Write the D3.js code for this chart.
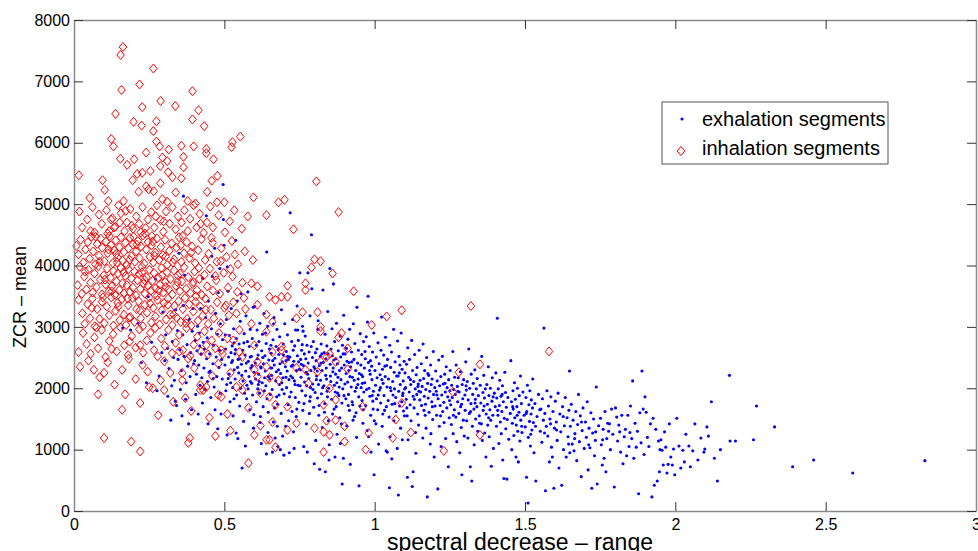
<!DOCTYPE html>
<html><head><meta charset="utf-8">
<script src="https://cdn.jsdelivr.net/npm/d3@7"></script>
<style>body{margin:0;background:#fff}svg{display:block}text{font-family:"Liberation Sans",Arial,sans-serif}</style>
</head><body><svg id="chart" width="978" height="551"></svg>
<script>
const xTicks=[0,0.5,1,1.5,2,2.5,3];
const yTicks=[0,1000,2000,3000,4000,5000,6000,7000,8000];
const xLabel="spectral decrease – range";
const yLabel="ZCR – mean";
const seriesNames=["exhalation segments","inhalation segments"];

// exhalation segments: [spectral decrease range, ZCR mean]
const exhalation=[
[0.162,2980],[0.188,2950],[0.213,3060],[0.247,3490],[0.271,3780],[0.224,2420],[0.258,2750],[0.283,2200],[0.241,2090],[0.292,2580],[0.276,1960],[0.296,3240],[0.364,5130],
[0.305,2870],[0.311,2650],[0.316,2320],[0.322,1480],[0.327,2760],[0.331,2500],[0.334,2130],[0.338,3280],[0.341,1720],[0.344,2940],[0.346,2470],[0.349,4200],[0.312,1870],[0.325,2040],[0.337,1790],[0.302,2450],
[0.352,2630],[0.354,1980],[0.357,2290],[0.359,1550],[0.362,2870],[0.364,3350],[0.366,2520],[0.368,3840],[0.371,1820],[0.373,2090],[0.376,2710],[0.378,2360],[0.381,1420],[0.383,3120],[0.386,2190],[0.388,2580],[0.391,1650],[0.393,2930],[0.396,3300],[0.398,2400],
[0.401,2450],[0.403,2780],[0.405,1900],[0.407,2230],[0.409,2610],[0.411,3010],[0.413,1580],[0.415,2380],[0.417,2900],[0.419,2050],[0.421,3300],[0.423,2560],[0.425,2170],[0.427,1760],[0.428,3790],[0.430,2750],[0.432,2330],[0.434,2640],[0.436,1980],[0.438,3150],[0.440,4810],[0.441,2480],[0.443,2820],[0.444,2110],[0.446,1420],[0.447,3420],[0.449,2260],[0.418,2690],
[0.451,2560],[0.453,2280],[0.455,1850],[0.457,2970],[0.458,4150],[0.460,3820],[0.462,2400],[0.464,2700],[0.466,2020],[0.468,4280],[0.469,1650],[0.471,3220],[0.473,2510],[0.475,2190],[0.477,2880],[0.478,1340],[0.480,3560],[0.482,2340],[0.484,2620],[0.486,1920],[0.487,3050],[0.489,1580],[0.491,2470],[0.493,2150],[0.494,2790],[0.496,5320],[0.497,4750],[0.499,4330],[0.485,3950],[0.463,2160],
[0.502,2380],[0.504,2640],[0.505,1960],[0.507,3120],[0.509,1240],[0.510,3980],[0.512,3580],[0.514,2510],[0.516,2230],[0.517,2860],[0.519,1780],[0.521,2090],[0.523,3300],[0.524,2420],[0.526,2690],[0.528,2010],[0.529,1550],[0.531,2970],[0.533,2300],[0.535,2560],[0.536,2150],[0.538,4410],[0.540,2810],[0.541,1890],[0.543,3420],[0.545,1180],[0.546,2470],[0.548,2250],[0.549,2720],[0.503,2870],[0.513,2160],[0.522,2580],[0.532,1830],[0.539,1270],[0.544,2340],[0.527,2450],[0.508,2060],[0.537,2630],
[0.551,1710],[0.553,3090],[0.554,2000],[0.556,3540],[0.557,2390],[0.559,700],[0.561,2620],[0.562,2120],[0.564,1460],[0.566,2890],[0.567,1920],[0.569,2540],[0.571,2280],[0.572,3180],[0.574,1830],[0.575,2050],[0.577,2760],[0.578,3570],[0.580,2440],[0.582,2190],[0.583,2680],[0.585,1650],[0.586,2960],[0.588,2330],[0.590,2520],[0.591,2080],[0.593,2810],[0.594,1890],[0.596,3320],[0.597,1350],[0.599,2260],[0.552,2480],[0.558,2210],[0.565,2740],[0.573,2410],[0.579,1990],[0.587,2110],[0.592,2370],[0.598,1570],[0.570,1060],
[0.601,3330],[0.603,2410],[0.604,2150],[0.606,2700],[0.607,1780],[0.609,2950],[0.611,1990],[0.612,2540],[0.614,2230],[0.615,2760],[0.617,1920],[0.618,3060],[0.620,1540],[0.621,2350],[0.623,1100],[0.624,2610],[0.626,2090],[0.627,2880],[0.629,1700],[0.630,2400],[0.632,3220],[0.633,1960],[0.635,2530],[0.636,2280],[0.638,2040],[0.639,2730],[0.641,4220],[0.642,1830],[0.644,3010],[0.645,1280],[0.647,2190],[0.648,2460],[0.650,2640],[0.610,2480],[0.616,2110],[0.622,2330],[0.628,2500],[0.634,2170],[0.640,930],[0.646,1610],[0.619,1440],[0.637,2900],
[0.651,2150],[0.653,1900],[0.654,2330],[0.656,2570],[0.657,2210],[0.659,1980],[0.660,960],[0.662,2790],[0.663,1450],[0.665,3150],[0.666,2380],[0.668,2490],[0.669,1190],[0.671,2120],[0.672,2680],[0.674,1860],[0.675,2960],[0.677,1740],[0.678,1050],[0.680,2300],[0.681,2550],[0.683,2060],[0.684,2840],[0.686,1000],[0.687,2240],[0.689,1590],[0.690,3280],[0.692,1980],[0.693,2430],[0.695,2170],[0.696,2720],[0.698,910],[0.699,1910],[0.655,2700],[0.661,2450],[0.667,1680],[0.673,2270],[0.679,2630],[0.685,2400],[0.691,2090],[0.697,2540],[0.664,3050],[0.676,1380],[0.694,1220],
[0.701,3050],[0.703,2350],[0.704,1380],[0.706,2600],[0.707,2010],[0.709,2280],[0.710,2870],[0.712,1730],[0.713,2470],[0.715,2140],[0.716,950],[0.718,2510],[0.719,4860],[0.721,2200],[0.722,1940],[0.724,2760],[0.725,1620],[0.727,3120],[0.728,2380],[0.730,1290],[0.731,2440],[0.733,2120],[0.734,2690],[0.736,1850],[0.737,2950],[0.739,1540],[0.740,2290],[0.742,3340],[0.743,2530],[0.745,2050],[0.746,2780],[0.748,1770],[0.749,2310],[0.705,2180],[0.711,2520],[0.717,1860],[0.723,2360],[0.729,2620],[0.735,2060],[0.741,1660],[0.747,2430],[0.714,1470],[0.732,1020],[0.744,2950],
[0.751,3880],[0.752,2040],[0.754,2470],[0.755,2180],[0.757,2620],[0.758,1960],[0.760,3010],[0.761,1640],[0.763,2370],[0.764,1050],[0.766,2560],[0.767,2100],[0.769,2850],[0.770,1880],[0.772,2260],[0.773,1420],[0.775,2700],[0.776,960],[0.778,3880],[0.779,2410],[0.781,2160],[0.782,2590],[0.784,1790],[0.785,3180],[0.787,2010],[0.788,2290],[0.790,4500],[0.791,3620],[0.793,2500],[0.794,2070],[0.796,2760],[0.797,1690],[0.799,770],[0.753,2300],[0.759,2710],[0.765,1750],[0.771,2480],[0.777,2230],[0.783,1590],[0.789,2680],[0.795,1980],[0.762,2930],[0.774,2040],[0.798,2350],
[0.801,2320],[0.802,1930],[0.804,1150],[0.805,2450],[0.807,2200],[0.808,2640],[0.810,1840],[0.811,2960],[0.813,2060],[0.814,1560],[0.816,2370],[0.817,680],[0.819,2520],[0.820,2130],[0.822,2720],[0.823,1910],[0.825,2290],[0.826,1360],[0.828,3600],[0.829,2420],[0.831,2040],[0.832,2580],[0.834,1750],[0.835,2880],[0.837,2210],[0.838,2480],[0.840,2150],[0.841,2690],[0.843,1860],[0.844,3250],[0.846,1470],[0.847,2000],[0.849,1080],[0.803,2580],[0.809,2280],[0.815,1720],[0.821,2410],[0.827,2010],[0.833,1610],[0.839,2330],[0.845,2560],[0.812,3100],[0.836,640],[0.848,830],
[0.851,3950],[0.852,2390],[0.854,2110],[0.855,2640],[0.857,1820],[0.858,2970],[0.860,1580],[0.861,2270],[0.863,3700],[0.864,2460],[0.866,2050],[0.867,2760],[0.869,1940],[0.870,2230],[0.872,1700],[0.873,3060],[0.875,1250],[0.876,2400],[0.878,2180],[0.879,2610],[0.881,1880],[0.882,2020],[0.884,1520],[0.885,2850],[0.887,2510],[0.888,2140],[0.890,2330],[0.891,1760],[0.893,2700],[0.894,1990],[0.896,860],[0.897,3190],[0.899,2380],[0.853,2200],[0.859,2530],[0.865,1660],[0.871,2480],[0.877,1920],[0.883,2290],[0.889,1420],[0.895,2560],[0.868,880],[0.886,1100],[0.892,440],
[0.901,2070],[0.902,2560],[0.904,1830],[0.905,2240],[0.907,1390],[0.908,2440],[0.910,2100],[0.911,2800],[0.913,1900],[0.914,2290],[0.916,1640],[0.917,2960],[0.919,760],[0.920,2350],[0.922,2020],[0.923,2590],[0.925,1780],[0.926,2180],[0.928,1480],[0.929,3050],[0.931,2470],[0.932,2130],[0.934,2730],[0.935,1950],[0.937,2290],[0.938,1600],[0.940,1200],[0.941,3320],[0.943,2410],[0.944,2060],[0.946,2620],[0.947,1860],[0.949,2240],[0.906,2650],[0.912,1720],[0.918,2190],[0.924,2430],[0.933,1540],[0.939,2010],[0.948,410],
[0.951,1710],[0.952,2890],[0.954,2380],[0.955,2010],[0.957,2550],[0.958,1800],[0.960,2190],[0.961,1430],[0.963,2760],[0.964,1940],[0.966,2330],[0.967,2090],[0.969,2480],[0.970,1720],[0.972,2840],[0.973,1980],[0.975,1310],[0.976,3080],[0.978,3500],[0.979,2420],[0.981,2000],[0.982,2680],[0.984,1870],[0.985,2230],[0.987,1560],[0.988,960],[0.990,2360],[0.991,2140],[0.993,2590],[0.994,1790],[0.996,1950],[0.997,2900],[0.999,1470],[0.956,2220],[0.962,1650],[0.968,2600],[0.980,1210],[0.986,2450],[0.992,1880],[0.998,590],
[1.001,2290],[1.003,2050],[1.005,2510],[1.006,1830],[1.008,2170],[1.010,1650],[1.011,2740],[1.013,1090],[1.015,2400],[1.016,1970],[1.018,2220],[1.020,1760],[1.021,2620],[1.023,3160],[1.025,1380],[1.026,2310],[1.028,2080],[1.030,2540],[1.031,1880],[1.033,1640],[1.035,2190],[1.036,2830],[1.038,980],[1.040,2370],[1.041,2020],[1.043,2470],[1.045,1800],[1.046,2150],[1.048,1530],[1.050,2700],[1.004,1420],[1.019,2010],[1.027,1580],[1.034,2360],[1.042,960],[1.049,380],
[1.051,1210],[1.053,2340],[1.054,1960],[1.056,2590],[1.058,1740],[1.060,2110],[1.061,1890],[1.063,2960],[1.065,2260],[1.066,1990],[1.068,2430],[1.070,1850],[1.071,1620],[1.073,2200],[1.075,1020],[1.076,2770],[1.078,2200],[1.080,1950],[1.081,2520],[1.083,1710],[1.085,2060],[1.086,1350],[1.088,2900],[1.090,1780],[1.091,2310],[1.093,1880],[1.095,2120],[1.096,1630],[1.098,2440],[1.100,1990],[1.057,850],[1.064,1470],[1.079,260],[1.084,2380],[1.092,1160],[1.099,1550],
[1.101,2250],[1.103,2010],[1.105,1820],[1.106,2390],[1.108,1550],[1.110,2660],[1.111,1160],[1.113,2180],[1.115,1940],[1.116,2470],[1.118,1730],[1.120,2060],[1.121,1470],[1.123,2780],[1.125,400],[1.126,2290],[1.128,1870],[1.130,2110],[1.131,1680],[1.133,2550],[1.135,1990],[1.136,1280],[1.138,2220],[1.140,1900],[1.141,2340],[1.143,1580],[1.145,2070],[1.146,1400],[1.148,2620],[1.150,1810],[1.109,550],[1.128,640],[1.137,940],[1.144,2030],
[1.151,2130],[1.153,1940],[1.155,2400],[1.156,1720],[1.158,2030],[1.160,1190],[1.161,2720],[1.163,2160],[1.165,1870],[1.166,2290],[1.168,1560],[1.170,1980],[1.171,1350],[1.173,2500],[1.175,230],[1.176,2080],[1.178,1840],[1.180,2210],[1.181,1610],[1.183,1950],[1.185,1090],[1.186,2380],[1.188,2060],[1.190,1780],[1.191,2150],[1.193,1490],[1.195,2600],[1.196,1900],[1.198,880],[1.200,2010],[1.169,1740],[1.187,1260],
[1.201,1710],[1.203,2280],[1.205,1950],[1.206,1560],[1.208,2120],[1.210,360],[1.211,1830],[1.213,2460],[1.215,1380],[1.216,2040],[1.218,1720],[1.220,2190],[1.221,1050],[1.223,1890],[1.225,2520],[1.226,1620],[1.228,2070],[1.230,1770],[1.231,1440],[1.233,2230],[1.235,1940],[1.236,1180],[1.238,2350],[1.240,1680],[1.241,2010],[1.243,1860],[1.245,720],[1.246,2140],[1.248,1520],[1.250,1960],
[1.251,2290],[1.253,1730],[1.255,1410],[1.256,2050],[1.258,1850],[1.260,2600],[1.261,1260],[1.263,1980],[1.265,1650],[1.266,2180],[1.268,1900],[1.270,1530],[1.271,2380],[1.273,1130],[1.275,2030],[1.276,1780],[1.278,2170],[1.280,1590],[1.281,1940],[1.283,950],[1.285,2270],[1.286,1700],[1.288,1360],[1.290,590],[1.291,2060],[1.293,1830],[1.295,1480],[1.296,2140],[1.298,1220],[1.300,1890],
[1.301,1640],[1.303,2430],[1.305,1970],[1.306,1470],[1.308,2110],[1.310,1190],[1.311,1810],[1.313,2640],[1.315,1590],[1.316,2000],[1.318,720],[1.320,1750],[1.321,2230],[1.323,490],[1.325,1380],[1.326,1900],[1.328,2080],[1.330,1660],[1.331,1080],[1.333,2300],[1.335,1820],[1.336,1500],[1.338,1990],[1.340,1700],[1.341,2160],[1.343,1300],[1.345,1880],[1.348,1550],
[1.351,2050],[1.353,1760],[1.355,1420],[1.356,2520],[1.358,1150],[1.360,1930],[1.361,1640],[1.363,2210],[1.365,1840],[1.366,1270],[1.368,1990],[1.370,880],[1.371,1580],[1.373,2060],[1.375,1740],[1.376,1400],[1.378,2350],[1.380,1880],[1.381,1210],[1.383,1650],[1.385,2000],[1.386,1480],[1.388,730],[1.390,1790],[1.391,2170],[1.393,1560],[1.395,1020],[1.398,1920],
[1.401,1700],[1.403,2250],[1.405,1380],[1.406,1840],[1.408,3140],[1.410,1560],[1.411,1990],[1.413,1100],[1.415,1720],[1.416,2130],[1.418,1450],[1.420,1870],[1.421,1260],[1.423,1620],[1.425,2040],[1.426,830],[1.428,1780],[1.430,530],[1.431,1510],[1.433,2260],[1.435,1930],[1.436,1340],[1.438,1690],[1.440,520],[1.443,1850],[1.446,1170],
[1.451,1590],[1.453,2450],[1.455,1780],[1.456,1000],[1.458,1430],[1.460,1960],[1.461,1660],[1.463,1230],[1.465,2090],[1.466,1520],[1.468,1820],[1.470,880],[1.471,1400],[1.473,1700],[1.475,2000],[1.476,1300],[1.478,800],[1.480,1610],[1.481,1880],[1.483,1140],[1.485,2200],[1.486,1480],[1.488,1750],[1.490,1280],[1.493,1940],[1.497,1560],
[1.501,1370],[1.503,1850],[1.505,550],[1.506,1620],[1.508,2050],[1.510,130],[1.511,1200],[1.513,1730],[1.515,1460],[1.516,1960],[1.518,1060],[1.520,1580],[1.521,1810],[1.523,1320],[1.525,1680],[1.526,2150],[1.528,1440],[1.530,950],[1.533,1750],[1.536,490],[1.540,1540],[1.545,1900],
[1.551,1300],[1.553,1660],[1.556,1120],[1.558,1830],[1.561,1480],[1.563,2980],[1.566,1590],[1.568,330],[1.571,1380],[1.573,1960],[1.576,1220],[1.578,1710],[1.581,800],[1.583,1500],[1.586,1860],[1.588,1040],[1.591,880],[1.593,1620],[1.596,370],[1.598,1350],
[1.601,1790],[1.604,1450],[1.607,1150],[1.610,1920],[1.613,700],[1.616,1580],[1.619,1290],[1.622,420],[1.625,1700],[1.628,1000],[1.631,1390],[1.634,1850],[1.637,880],[1.640,1520],[1.643,1210],[1.646,1640],[1.648,2280],[1.649,950],
[1.651,1380],[1.654,1740],[1.657,1090],[1.660,1480],[1.663,980],[1.666,1260],[1.669,1620],[1.672,820],[1.675,1410],[1.678,1900],[1.681,1130],[1.684,1550],[1.687,560],[1.690,1310],[1.693,1680],[1.697,1020],
[1.701,1450],[1.704,1200],[1.707,1780],[1.710,670],[1.713,1350],[1.716,1030],[1.719,1600],[1.722,370],[1.725,1270],[1.728,1500],[1.731,900],[1.734,1150],[1.737,2020],[1.740,440],[1.745,1390],
[1.751,1510],[1.754,1080],[1.757,750],[1.760,1330],[1.763,860],[1.766,1620],[1.769,640],[1.772,1180],[1.775,1430],[1.778,1300],[1.784,1000],[1.788,1660],[1.792,1250],[1.797,390],
[1.801,1680],[1.805,1530],[1.808,1140],[1.812,1400],[1.815,1290],[1.818,960],[1.822,1560],[1.826,770],[1.830,1210],[1.834,1330],[1.838,900],[1.842,1560],[1.846,1050],[1.849,1280],
[1.851,1710],[1.855,1180],[1.858,2120],[1.862,860],[1.866,1430],[1.870,1040],[1.874,1300],[1.878,280],[1.882,1600],[1.886,1110],[1.889,2280],[1.893,1660],[1.896,920],[1.899,1860],
[1.903,1610],[1.907,1200],[1.912,1050],[1.917,1420],[1.922,230],[1.926,1510],[1.930,420],[1.935,1330],[1.940,490],[1.944,1140],[1.947,640],[1.949,1000],
[1.952,1160],[1.956,990],[1.960,750],[1.964,1290],[1.968,1040],[1.972,620],[1.976,760],[1.980,1420],[1.985,880],[1.990,750],[1.994,1010],[1.998,590],
[2.005,1510],[2.012,1060],[2.018,700],[2.025,990],[2.030,800],[2.035,1250],[2.045,1060],[2.050,720],[2.058,980],[2.065,1420],[2.075,830],[2.085,1190],[2.095,960],[2.098,1010],
[2.105,1370],[2.110,1220],[2.120,1780],[2.130,860],[2.140,490],[2.150,1000],[2.180,2210],[2.182,1140],[2.200,1140],[2.260,1160],[2.270,1710],[2.330,1370],[2.390,720],[2.460,830],[2.590,620],[2.830,820],
[0.532,2740],[0.586,2510],[0.613,2060],[0.658,2330],[0.682,1890],[0.705,2450],[0.727,2170],[0.756,2390],[0.786,1860],[0.806,2140],[0.824,2560],[0.842,1950],[0.862,2330],[0.874,2090],[0.898,1880],[0.915,2420],[0.927,1730],[0.945,2150],[0.959,2080],[0.983,2290],[0.995,1660],[1.012,1890],[1.024,2140],[1.039,1700],[1.052,2010],[1.067,1750],[1.082,2250],[1.094,1920],[1.107,1680],[1.119,2140],[1.132,1820],[1.147,1950],[1.164,1640],[1.177,2240],[1.192,1700],[1.207,1890],[1.219,1550],[1.234,2080],[1.249,1800],[1.262,1560],[1.277,1950],[1.289,1740],[1.304,2040],[1.319,1620],[1.334,1760],[1.349,1430],[1.364,1710],[1.379,1520],[1.394,1860],[1.409,1640],[1.424,1900],[1.441,1490],[1.459,1700],[1.474,1560],[1.489,1380],[1.504,1590],[1.519,1250],[1.535,1380],[1.549,1650],[1.565,1270],[1.585,1420],[1.605,1320],[1.627,1540],[1.645,1090],[1.665,1180],[1.688,1450],[1.712,1080],[1.735,1290],[1.758,1160],[1.781,1420]
];

// inhalation segments: [spectral decrease range, ZCR mean]
const inhalation=[
[0.163,7560],[0.155,7430],[0.264,7210],[0.218,6950],[0.158,6860],[0.394,6840],[0.288,6680],[0.337,6600],[0.227,6580],[0.414,6530],[0.138,6470],[0.198,6340],[0.274,6350],[0.394,6380],[0.225,6280],[0.433,6270],[0.264,6190],[0.124,6060],[0.274,6020],[0.131,5940],[0.285,5940],[0.357,5950],[0.398,5940],[0.315,5890],[0.240,5840],[0.440,5900],[0.440,5830],[0.527,6010],[0.553,6100],[0.524,5930],[0.154,5740],[0.200,5730],[0.177,5640],[0.464,5730],[0.294,5760],[0.310,5700],[0.364,5770],[0.364,5600],[0.016,5470],
[0.095,5390],[0.102,5230],[0.195,5390],[0.210,5490],[0.227,5510],[0.254,5540],[0.287,5620],[0.287,5340],[0.313,5520],[0.327,5440],[0.357,5420],[0.477,5460],[0.458,5380],[0.443,5200],[0.240,5290],[0.215,5200],[0.265,5210],[0.806,5370],[0.338,5190],[0.052,5100],[0.114,5050],[0.165,5050],[0.248,5240],[0.294,5080],[0.310,5040],[0.378,5050],[0.404,5010],[0.476,5030],[0.500,5030],[0.597,5110],[0.680,5030],[0.700,5070],
[0.018,4880],[0.027,4620],[0.044,4750],[0.061,4950],[0.068,4540],[0.083,4830],[0.092,4680],[0.108,4900],[0.117,4560],[0.128,4770],[0.137,4630],[0.148,4980],[0.156,4850],[0.168,4560],[0.176,4700],[0.187,4920],[0.196,4600],[0.207,4800],[0.217,4680],[0.228,4950],[0.236,4520],[0.246,4750],[0.257,4870],[0.267,4620],[0.276,4980],[0.288,4740],[0.297,4550],[0.306,4880],[0.318,4680],[0.327,4950],[0.338,4590],[0.346,4800],[0.358,4700],[0.367,4900],[0.378,4560],[0.386,4760],[0.398,4980],[0.408,4620],[0.418,4840],[0.431,4530],[0.442,4700],[0.453,4960],[0.462,4620],[0.481,4820],[0.502,4540],[0.518,4720],[0.533,4900],[0.558,4600],[0.578,4800],[0.640,4820],[0.730,4590],[0.880,4870],[0.112,4520],[0.152,4700],[0.222,4540],[0.272,4800],[0.192,4650],[0.123,4750],[0.055,4560],
[0.008,4320],[0.015,4180],[0.022,4420],[0.031,4050],[0.038,4260],[0.046,4380],[0.052,4110],[0.058,4470],[0.064,4230],[0.071,4020],[0.077,4350],[0.083,4160],[0.089,4440],[0.094,4290],[0.101,4070],[0.106,4390],[0.112,4200],[0.118,4480],[0.123,4330],[0.129,4040],[0.134,4250],[0.139,4410],[0.145,4130],[0.151,4300],[0.156,4460],[0.161,4080],[0.166,4220],[0.171,4370],[0.176,4010],[0.181,4280],[0.186,4450],[0.191,4150],[0.196,4340],[0.202,4060],[0.207,4230],[0.212,4400],[0.218,4120],[0.223,4310],[0.229,4490],[0.234,4030],[0.240,4260],[0.246,4380],[0.252,4140],[0.258,4330],[0.264,4050],[0.270,4210],[0.276,4440],[0.283,4090],[0.289,4300],[0.296,4170],[0.303,4420],[0.310,4010],[0.317,4240],[0.325,4360],[0.333,4100],[0.341,4290],[0.349,4460],[0.357,4060],[0.366,4200],[0.375,4380],[0.384,4120],[0.393,4310],[0.403,4040],[0.413,4250],[0.424,4430],[0.436,4090],[0.448,4190],[0.461,4370],[0.475,4060],[0.490,4280],[0.507,4140],[0.525,4400],[0.545,4020],[0.568,4230],[0.595,4090],[0.800,4100],[0.820,4070],[0.140,4190],[0.198,4470],[0.262,4390],[0.115,4260],[0.185,4090],[0.305,4150],[0.355,4330],[0.085,4060],
[0.012,3680],[0.019,3980],[0.026,3540],[0.034,3820],[0.041,3610],[0.048,3930],[0.055,3720],[0.062,3560],[0.068,3870],[0.075,3650],[0.081,3990],[0.087,3770],[0.093,3530],[0.099,3840],[0.105,3690],[0.110,3950],[0.116,3580],[0.121,3800],[0.126,3660],[0.131,3910],[0.136,3520],[0.141,3740],[0.146,3870],[0.151,3600],[0.156,3960],[0.161,3710],[0.166,3550],[0.171,3830],[0.176,3680],[0.181,3940],[0.186,3570],[0.191,3790],[0.196,3640],[0.201,3900],[0.206,3510],[0.211,3760],[0.216,3860],[0.221,3620],[0.226,3980],[0.231,3700],[0.236,3540],[0.241,3810],[0.246,3670],[0.251,3930],[0.256,3590],[0.261,3750],[0.266,3880],[0.271,3630],[0.276,3510],[0.281,3800],[0.286,3690],[0.291,3960],[0.297,3560],[0.303,3730],[0.309,3890],[0.315,3610],[0.321,3780],[0.327,3530],[0.333,3920],[0.339,3670],[0.345,3840],[0.352,3580],[0.359,3740],[0.366,3970],[0.373,3620],[0.380,3810],[0.387,3550],[0.394,3700],[0.401,3900],[0.409,3600],[0.417,3780],[0.425,3520],[0.434,3850],[0.443,3660],[0.452,3950],[0.462,3590],[0.473,3760],[0.485,3540],[0.498,3880],[0.512,3640],[0.527,3820],[0.543,3570],[0.560,3720],[0.590,3710],[0.610,3660],[0.710,3670],[0.770,3710],[0.770,3600],[0.860,3870],[0.930,3580],[0.790,3970],[0.165,3890],[0.235,3760],[0.305,3650],[0.125,3580],
[0.015,3440],[0.028,3220],[0.036,3050],[0.045,3370],[0.053,3140],[0.061,3460],[0.069,3010],[0.077,3290],[0.085,3130],[0.093,3410],[0.101,3060],[0.109,3330],[0.117,3190],[0.124,3480],[0.131,3020],[0.138,3260],[0.145,3390],[0.152,3110],[0.159,3450],[0.166,3200],[0.173,3030],[0.180,3350],[0.187,3160],[0.194,3470],[0.201,3080],[0.208,3290],[0.215,3420],[0.222,3140],[0.229,3010],[0.236,3360],[0.243,3230],[0.250,3480],[0.257,3070],[0.264,3310],[0.271,3170],[0.278,3440],[0.285,3040],[0.292,3270],[0.299,3390],[0.306,3120],[0.313,3460],[0.320,3200],[0.327,3030],[0.334,3340],[0.341,3150],[0.348,3420],[0.355,3080],[0.362,3290],[0.369,3470],[0.376,3130],[0.383,3370],[0.390,3020],[0.397,3250],[0.404,3410],[0.412,3100],[0.420,3330],[0.428,3180],[0.437,3460],[0.446,3050],[0.455,3280],[0.465,3140],[0.476,3400],[0.488,3060],[0.500,3310],[0.515,3190],[0.540,3220],[0.570,3290],[0.610,3360],[0.650,3490],[0.670,3440],[0.690,3490],[0.710,3490],[0.660,3080],[0.760,3240],[0.740,3140],[0.810,3240],[0.820,3000],[0.990,3030],[1.040,3170],[1.090,3270],[1.320,3340],[0.565,3470],[0.530,3400],[0.590,3050],[0.640,3200],
[0.015,2590],[0.030,2900],[0.042,2720],[0.055,2560],[0.068,2830],[0.080,2650],[0.092,2950],[0.105,2510],[0.117,2770],[0.130,2880],[0.142,2600],[0.155,2990],[0.167,2700],[0.180,2540],[0.192,2850],[0.205,2660],[0.217,2960],[0.230,2580],[0.242,2780],[0.254,2900],[0.266,2620],[0.278,2520],[0.290,2810],[0.302,2690],[0.314,2950],[0.326,2570],[0.338,2740],[0.350,2870],[0.362,2620],[0.374,2980],[0.386,2530],[0.398,2710],[0.410,2840],[0.422,2600],[0.434,2930],[0.446,2550],[0.458,2780],[0.470,2650],[0.482,2900],[0.494,2560],[0.490,2620],[0.510,2810],[0.530,2780],[0.550,2950],[0.550,2590],[0.560,2510],[0.640,2920],[0.660,2590],[0.690,2680],[0.690,2620],[0.820,2930],[0.890,2900],[0.880,2830],[0.910,2650],[0.850,2560],[0.840,2510],[1.580,2600],[0.600,2700],[0.350,2600],[0.125,2640],[0.220,2700],[0.270,2980],[0.440,2700],[0.075,2990],[0.185,2760],
[0.020,2350],[0.048,2450],[0.066,2300],[0.085,2180],[0.112,2420],[0.135,2060],[0.160,2300],[0.182,2480],[0.205,2150],[0.228,2380],[0.250,2020],[0.262,2000],[0.288,2130],[0.300,2440],[0.320,2250],[0.360,2250],[0.360,2130],[0.380,2480],[0.400,2330],[0.420,2050],[0.440,2020],[0.460,2200],[0.480,2400],[0.540,2020],[0.610,2430],[0.640,2350],[0.600,2300],[0.610,2190],[0.650,2170],[0.680,2130],[0.740,2330],[0.770,2300],[0.810,2270],[0.870,2430],[0.820,2440],[0.910,2310],[0.780,2080],[0.850,2000],[1.280,2260],[1.350,2390],[0.520,2250],[0.700,2460],[0.560,2110],[0.100,2250],[0.245,2270],
[0.080,1900],[0.170,1900],[0.300,1970],[0.330,1780],[0.370,1840],[0.420,1970],[0.430,1970],[0.480,1890],[0.490,1860],[0.560,1970],[0.620,1920],[0.650,1860],[0.670,1730],[0.710,1700],[0.870,1810],[0.830,1730],[0.960,1700],[1.090,1760],[1.260,1940],[0.660,1450],[0.740,1430],[0.840,1470],[0.870,1480],[1.070,1490],[0.900,1380],[0.220,1760],[0.280,1560],[0.160,1650],[0.510,1580],[0.580,1680],[0.450,1520],[0.390,1630],
[0.100,1190],[0.190,1130],[0.220,970],[0.380,1110],[0.385,1190],[0.580,780],[0.640,1160],[0.650,1160],[0.670,1040],[0.710,1320],[0.800,1350],[0.830,1290],[0.850,1240],[0.830,960],[0.970,1000],[0.980,1270],[1.060,1190],[1.230,980],[1.350,1240],[0.600,1240],[0.620,1390],[0.900,1130],[0.520,1310],[0.470,1220],[1.120,1280],
[0.072,4470],[0.096,3480],[0.133,4620],[0.147,3330],[0.172,4890],[0.183,3150],[0.209,4340],[0.219,3270],[0.238,4610],[0.253,3380],[0.268,4160],[0.282,3590],[0.298,4720],[0.312,3360],[0.329,4050],[0.344,3730],[0.361,4480],[0.372,3060],[0.389,4210],[0.406,3500],[0.421,4680],[0.438,3280],[0.457,4450],[0.470,3830],[0.488,4070],[0.505,3350],[0.520,3940],[0.535,4180],[0.103,3770],[0.143,4050],[0.178,3460],[0.226,3890],[0.259,4480],[0.293,3840],[0.331,3200],[0.352,3870],[0.397,3730],[0.415,3960],[0.059,3310],[0.037,3900]
];

const svg=d3.select("#chart");
const x=d3.scaleLinear().domain([0,3]).range([74,976]);
const y=d3.scaleLinear().domain([0,8000]).range([511,20]);
const axisCol="#8a8a8a", tickCol="#333";

// points
svg.append("g").selectAll("circle").data(exhalation).join("circle")
  .attr("cx",d=>x(d[0])).attr("cy",d=>y(d[1])).attr("r",1.55).attr("fill","#0000ff");
const diamond="M0,-4.5L3.8,0L0,4.5L-3.8,0Z";
svg.append("g").selectAll("path").data(inhalation).join("path")
  .attr("d",diamond).attr("transform",d=>`translate(${x(d[0])},${y(d[1])})`)
  .attr("fill","none").attr("stroke","#ff0000").attr("stroke-width",1);

// axes
function styleAxis(g){
  g.select(".domain").attr("stroke",axisCol).attr("stroke-width",1.5);
  g.selectAll(".tick line").attr("stroke",tickCol).attr("stroke-width",1);
  g.selectAll(".tick text").attr("fill","#000").attr("font-size",16).attr("font-family","Liberation Sans, Arial, sans-serif");
}
svg.append("g").attr("transform","translate(0,511)")
  .call(d3.axisBottom(x).tickValues(xTicks).tickFormat(d3.format("")).tickSizeInner(-9).tickSizeOuter(0).tickPadding(8)).call(styleAxis);
svg.append("g").attr("transform","translate(0,20)")
  .call(d3.axisTop(x).tickValues(xTicks).tickFormat("").tickSizeInner(-9).tickSizeOuter(0)).call(styleAxis);
svg.append("g").attr("transform","translate(74,0)")
  .call(d3.axisLeft(y).tickValues(yTicks).tickFormat(d3.format("")).tickSizeInner(-9).tickSizeOuter(0).tickPadding(4)).call(styleAxis);
svg.append("g").attr("transform","translate(976,0)")
  .call(d3.axisRight(y).tickValues(yTicks).tickFormat("").tickSizeInner(-9).tickSizeOuter(0)).call(styleAxis);

// axis labels
svg.append("text").attr("x",520).attr("y",550).attr("text-anchor","middle")
  .attr("font-size",23).attr("fill","#000").text(xLabel);
svg.append("text").attr("transform","translate(26,297) rotate(-90)").attr("text-anchor","middle")
  .attr("font-size",18).attr("fill","#000").text(yLabel);

// legend
const lg=svg.append("g");
lg.append("rect").attr("x",662).attr("y",102).attr("width",226).attr("height",62)
  .attr("fill","#fff").attr("stroke","#555").attr("stroke-width",1);
lg.append("circle").attr("cx",682).attr("cy",119).attr("r",1.55).attr("fill","#0000ff");
lg.append("path").attr("d",diamond).attr("transform","translate(681,151)")
  .attr("fill","none").attr("stroke","#ff0000").attr("stroke-width",1);
lg.append("text").attr("x",702).attr("y",126).attr("font-size",20).attr("fill","#000").text(seriesNames[0]);
lg.append("text").attr("x",702).attr("y",155).attr("font-size",20).attr("fill","#000").text(seriesNames[1]);
</script></body></html>
